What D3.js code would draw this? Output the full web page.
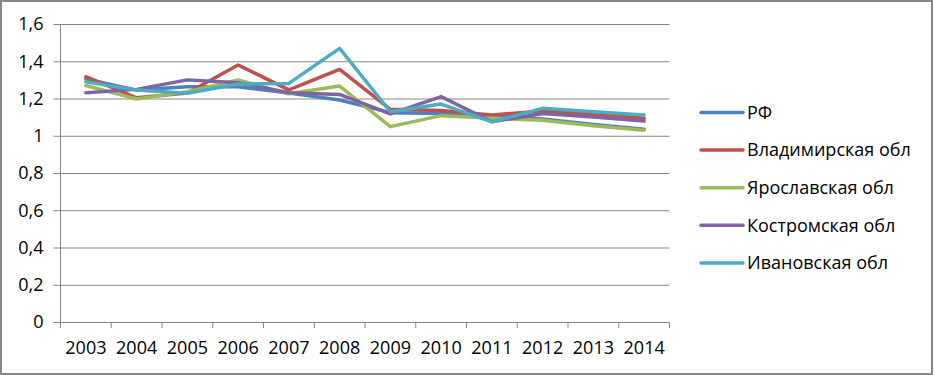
<!DOCTYPE html>
<html>
<head>
<meta charset="utf-8">
<script src="https://cdn.jsdelivr.net/npm/d3@7"></script>
<style>
  body { margin: 0; background: #fff; }
  svg text { font-family: "Open Sans", sans-serif; fill: #000; }
</style>
</head>
<body>
<div id="chart"></div>
<script>
'use strict';

const years = ['2003', '2004', '2005', '2006', '2007', '2008', '2009', '2010', '2011', '2012', '2013', '2014'];
const seriesNames = ['РФ', 'Владимирская обл', 'Ярославская обл', 'Костромская обл', 'Ивановская обл'];
const rf        = [1.305, 1.245, 1.263, 1.263, 1.230, 1.192, 1.124, 1.120, 1.108, 1.090, 1.060, 1.035];
const vladimir  = [1.317, 1.204, 1.230, 1.380, 1.246, 1.357, 1.142, 1.135, 1.111, 1.133, 1.115, 1.094];
const yaroslavl = [1.270, 1.197, 1.237, 1.300, 1.225, 1.267, 1.049, 1.108, 1.094, 1.083, 1.054, 1.029];
const kostroma  = [1.231, 1.249, 1.300, 1.285, 1.231, 1.222, 1.117, 1.210, 1.075, 1.120, 1.100, 1.079];
const ivanovo   = [1.290, 1.245, 1.228, 1.278, 1.281, 1.469, 1.129, 1.170, 1.075, 1.147, 1.129, 1.111];
const yTicks = [0, 0.2, 0.4, 0.6, 0.8, 1, 1.2, 1.4, 1.6];
const colors = ['#4F81BD', '#C0504D', '#9BBB59', '#8064A2', '#4BACC6'];

const series = [rf, vladimir, yaroslavl, kostroma, ivanovo];

const width = 935, height = 375;
const plot = { left: 60.5, right: 669.5, top: 24, bottom: 322 };

const svg = d3.select('#chart')
    .append('svg')
    .attr('width', width)
    .attr('height', height);

// outer frame
svg.append('rect')
    .attr('x', 1).attr('y', 1)
    .attr('width', 931).attr('height', 373)
    .attr('fill', '#fff')
    .attr('stroke', '#868686')
    .attr('stroke-width', 2);

const x = d3.scaleBand().domain(years).range([plot.left, plot.right]);
const y = d3.scaleLinear().domain([0, 1.6]).range([plot.bottom, plot.top]);
const fmt = d => String(d).replace('.', ',');

// gridlines + y labels
const yAxis = svg.append('g')
    .attr('transform', `translate(${plot.left},0)`)
    .call(d3.axisLeft(y).tickValues(yTicks).tickFormat(fmt)
        .tickSize(-(plot.right - plot.left)).tickPadding(17));
yAxis.select('.domain').remove();
yAxis.selectAll('.tick line')
    .attr('x1', -7)
    .attr('stroke', '#868686');
yAxis.selectAll('.tick text')
    .style('font-size', '18px');

// y axis line
svg.append('line')
    .attr('x1', plot.left).attr('x2', plot.left)
    .attr('y1', plot.top).attr('y2', plot.bottom)
    .attr('stroke', '#868686');

// x axis
const xAxis = svg.append('g')
    .attr('transform', `translate(0,${plot.bottom})`)
    .call(d3.axisBottom(x).tickSize(0).tickPadding(19));
xAxis.select('.domain').attr('stroke', '#868686');
xAxis.selectAll('.tick text').style('font-size', '18px');

// tick marks on band edges
const edges = years.map(d => x(d)).concat([x(years[years.length - 1]) + x.bandwidth()]);
svg.append('g').selectAll('line')
    .data(edges)
    .join('line')
    .attr('x1', d => d).attr('x2', d => d)
    .attr('y1', plot.bottom).attr('y2', plot.bottom + 6)
    .attr('stroke', '#868686');

const line = d3.line()
    .x((d, i) => x(years[i]) + x.bandwidth() / 2)
    .y(d => y(d));

svg.append('g').selectAll('path')
    .data(series)
    .join('path')
    .attr('d', line)
    .attr('fill', 'none')
    .attr('stroke', (d, i) => colors[i])
    .attr('stroke-width', 3.5)
    .attr('stroke-linejoin', 'round')
    .attr('stroke-linecap', 'round');

// legend
const legend = svg.append('g').selectAll('g')
    .data(seriesNames)
    .join('g')
    .attr('transform', (d, i) => `translate(701,${112.5 + i * 37.6})`);
legend.append('line')
    .attr('x1', 0).attr('x2', 42)
    .attr('stroke', (d, i) => colors[i])
    .attr('stroke-width', 3.5)
    .attr('stroke-linecap', 'round');
legend.append('text')
    .attr('x', 46)
    .attr('dy', '0.35em')
    .style('font-size', '18px')
    .text(d => d);
</script>
</body>
</html>
